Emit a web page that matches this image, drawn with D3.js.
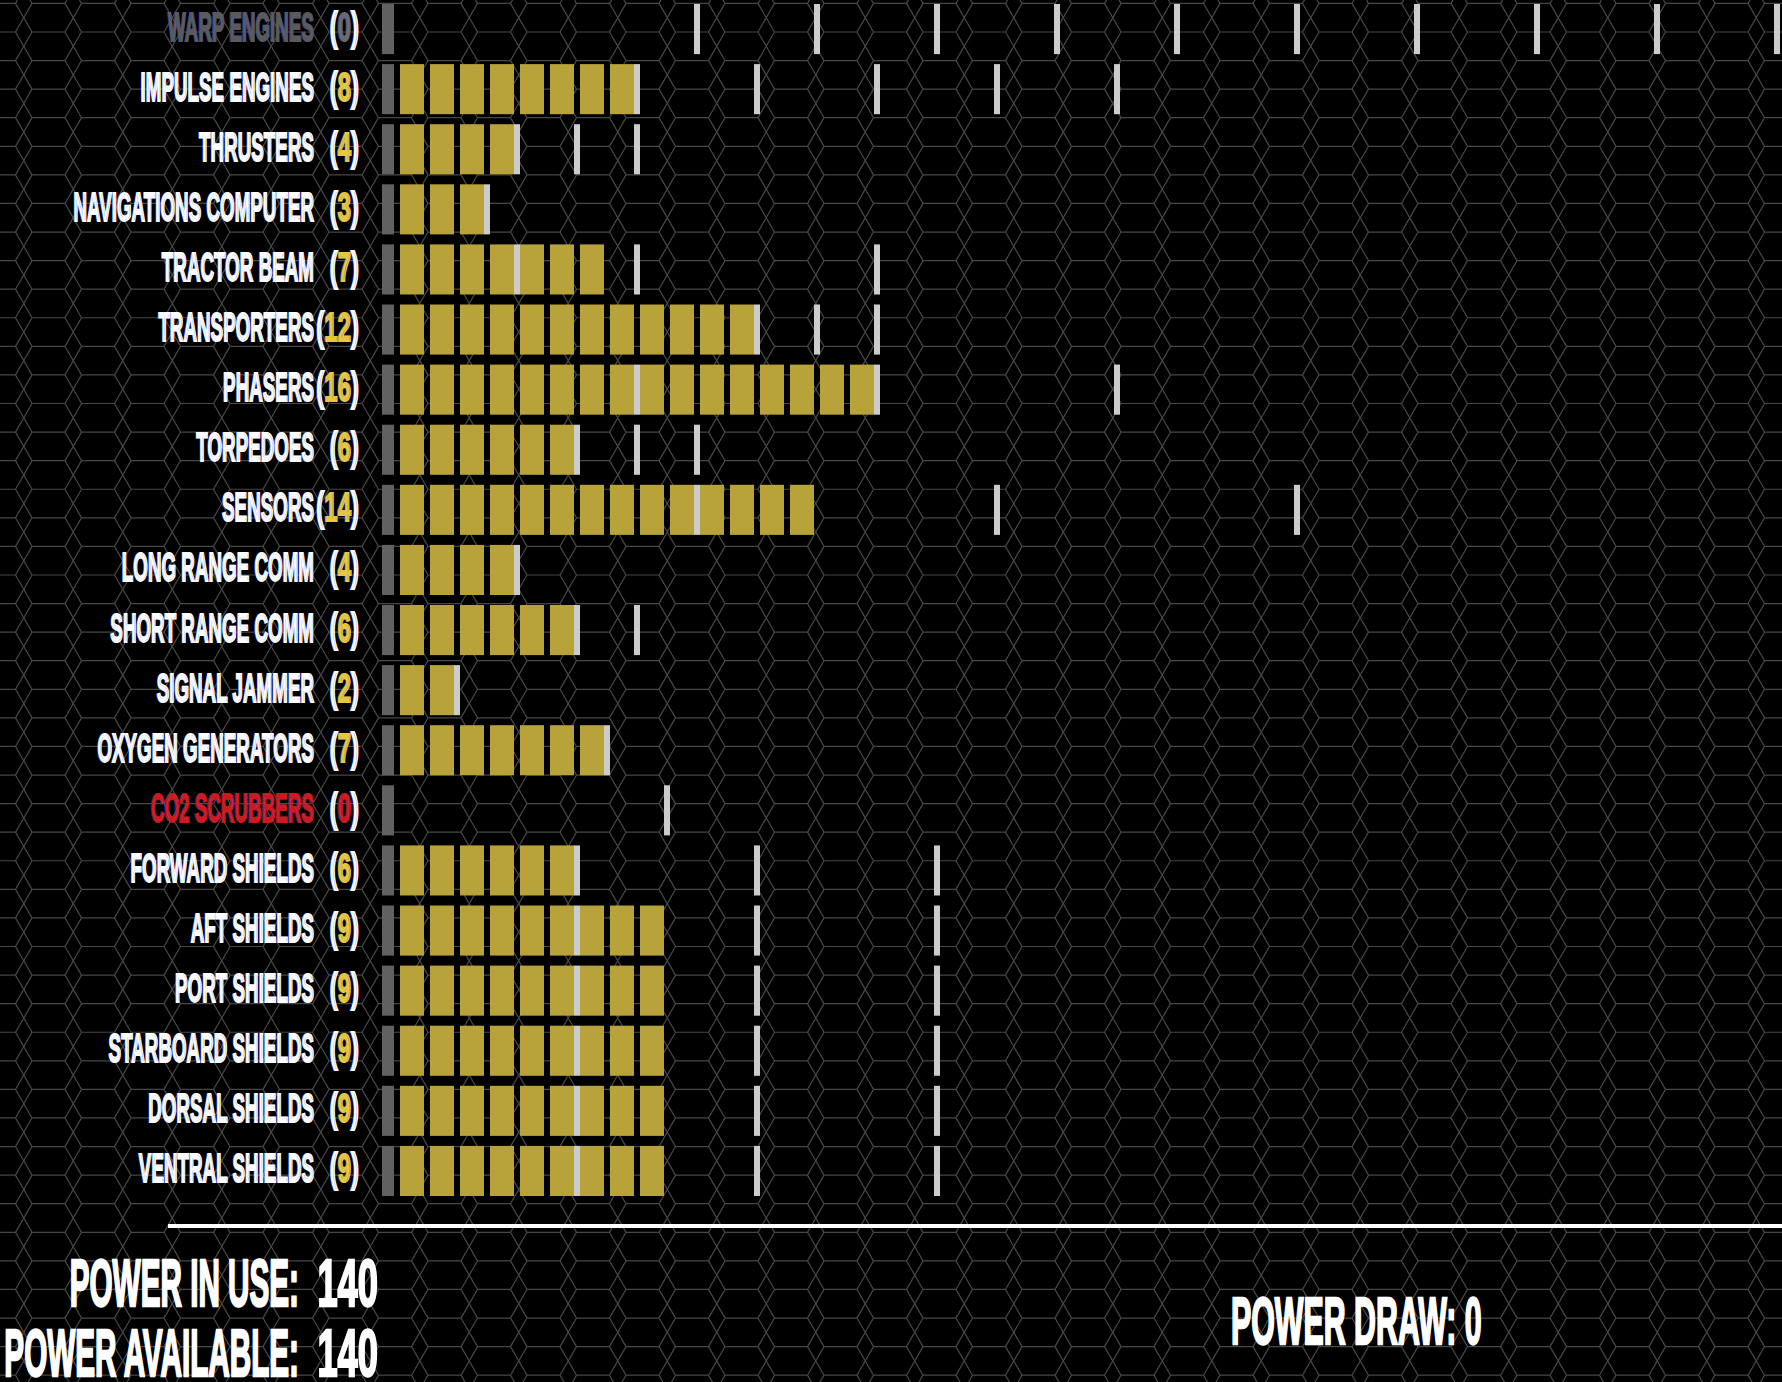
<!DOCTYPE html>
<html>
<head>
<meta charset="utf-8">
<script src="https://cdn.jsdelivr.net/npm/d3@7"></script>
<style>
    html, body { margin: 0; padding: 0; background: #000; overflow: hidden; }
    svg { display: block; }
    text { font-family: "Liberation Sans", Arial, sans-serif; font-weight: bold; }
</style>
</head>
<body>
<svg id="chart"></svg>
<script>
const width = 1782, height = 1382;

// ship systems, top to bottom
const systems = [
    "WARP ENGINES", "IMPULSE ENGINES", "THRUSTERS", "NAVIGATIONS COMPUTER", "TRACTOR BEAM",
    "TRANSPORTERS", "PHASERS", "TORPEDOES", "SENSORS", "LONG RANGE COMM",
    "SHORT RANGE COMM", "SIGNAL JAMMER", "OXYGEN GENERATORS", "CO2 SCRUBBERS", "FORWARD SHIELDS",
    "AFT SHIELDS", "PORT SHIELDS", "STARBOARD SHIELDS", "DORSAL SHIELDS", "VENTRAL SHIELDS"
];
// power units given to each system
const power = [0, 8, 4, 3, 7, 12, 16, 6, 14, 4, 6, 2, 7, 0, 6, 9, 9, 9, 9, 9];
// power levels where each system changes state (white ticks)
const thresholds = [
    [10, 14, 18, 22, 26, 30, 34, 38, 42, 46],
    [8, 12, 16, 20, 24],
    [4, 6, 8],
    [3],
    [4, 8, 16],
    [12, 14, 16],
    [8, 16, 24],
    [6, 8, 10],
    [10, 20, 30],
    [4],
    [6, 8],
    [2],
    [7],
    [9],
    [6, 12, 18],
    [6, 12, 18],
    [6, 12, 18],
    [6, 12, 18],
    [6, 12, 18],
    [6, 12, 18]
];
// label state of each system
const status = [
    "offline", "ok", "ok", "ok", "ok", "ok", "ok", "ok", "ok", "ok",
    "ok", "ok", "ok", "critical", "ok", "ok", "ok", "ok", "ok", "ok"
];
const powerAvailable = 140;
const powerDraw = 0;

const labelColor = { ok: "#ffffff", offline: "#5a5a5a", critical: "#d01818" };
const digitColor = { ok: "#e8c83a", offline: "#6a6a6a", critical: "#d01818" };
const fringe = "-1px 0 rgba(70,100,255,0.4)";

const svg = d3.select("#chart")
    .attr("width", width)
    .attr("height", height);

svg.append("rect")
    .attr("width", width)
    .attr("height", height)
    .attr("fill", "#000");

// hex grid background (two grids, half a cell apart)
const s = 33, hh = s * Math.sqrt(3);
function hexGrid(ox, oy) {
    const p = d3.path();
    for (let i = -1; ox + i * 1.5 * s < width + s; i++) {
        const cx = ox + i * 1.5 * s;
        const shift = (i & 1) ? hh / 2 : 0;
        for (let j = -2; oy + j * hh < height + hh; j++) {
            const cy = oy + shift + j * hh + hh / 2;
            p.moveTo(cx + s, cy);
            p.lineTo(cx + s / 2, cy + hh / 2);
            p.lineTo(cx - s / 2, cy + hh / 2);
            p.lineTo(cx - s, cy);
            p.lineTo(cx - s / 2, cy - hh / 2);
            p.lineTo(cx + s / 2, cy - hh / 2);
            p.closePath();
        }
    }
    return p.toString();
}
svg.append("g")
    .selectAll("path")
    .data([[-1, 3.4], [-1, 3.4 + hh / 2]])
    .join("path")
    .attr("d", d => hexGrid(d[0], d[1]))
    .attr("fill", "none")
    .attr("stroke", "#474747")
    .attr("stroke-width", 1.2);

// scales
const x = d3.scaleLinear()
    .domain([0, 46])
    .range([400, 400 + 46 * 30]);
const cellW = x(1) - x(0) - 6;

const y = d3.scaleBand()
    .domain(systems)
    .range([-1, 1201])
    .paddingInner(1 / 6)
    .paddingOuter(1 / 12);

const rowData = systems.map((name, i) => ({
    name, level: power[i], ticks: thresholds[i], state: status[i]
}));

const rows = svg.append("g")
    .selectAll("g")
    .data(rowData)
    .join("g")
    .attr("transform", d => `translate(0, ${y(d.name)})`);

// grey stub at the start of each row
rows.append("rect")
    .attr("x", x(0) - 18)
    .attr("width", 12)
    .attr("height", y.bandwidth())
    .attr("fill", "#616161");

// power cells
rows.selectAll("rect.cell")
    .data(d => d3.range(d.level))
    .join("rect")
    .attr("class", "cell")
    .attr("x", i => x(i))
    .attr("width", cellW)
    .attr("height", y.bandwidth())
    .attr("fill", "#b8a23a");

// threshold ticks
rows.selectAll("rect.tick")
    .data(d => d.ticks)
    .join("rect")
    .attr("class", "tick")
    .attr("x", n => x(n) - 6)
    .attr("width", 6)
    .attr("height", y.bandwidth())
    .attr("fill", "#cccccc");

// system labels
rows.append("text")
    .attr("transform", "translate(314, 36.5) scale(0.47, 1)")
    .attr("text-anchor", "end")
    .attr("font-size", 40)
    .attr("fill", d => labelColor[d.state])
    .attr("stroke", d => labelColor[d.state])
    .attr("stroke-width", 1.8)
    .style("text-shadow", fringe)
    .text(d => d.name);

// power values
const val = rows.append("text")
    .attr("transform", "translate(359, 36.5) scale(0.6, 1)")
    .attr("text-anchor", "end")
    .attr("font-size", 40)
    .attr("stroke-width", 1.8)
    .style("text-shadow", fringe);
val.append("tspan").attr("fill", "#fff").attr("stroke", "#fff").text("(");
val.append("tspan")
    .attr("fill", d => digitColor[d.state])
    .attr("stroke", d => digitColor[d.state])
    .text(d => d.level);
val.append("tspan").attr("fill", "#fff").attr("stroke", "#fff").text(")");

// divider
svg.append("line")
    .attr("x1", 168)
    .attr("x2", width)
    .attr("y1", 1226)
    .attr("y2", 1226)
    .attr("stroke", "#fff")
    .attr("stroke-width", 4);

// totals
const totals = [
    { label: "POWER IN USE:", value: d3.sum(power), base: 1306 },
    { label: "POWER AVAILABLE:", value: powerAvailable, base: 1376 }
];
const tg = svg.append("g")
    .selectAll("g")
    .data(totals)
    .join("g")
    .attr("transform", d => `translate(0, ${d.base})`);
tg.append("text")
    .attr("transform", "translate(299, 0) scale(0.45, 1)")
    .attr("text-anchor", "end")
    .attr("font-size", 66)
    .attr("fill", "#fff")
    .attr("stroke", "#fff")
    .attr("stroke-width", 2.5)
    .text(d => d.label);
tg.append("text")
    .attr("transform", "translate(378, 0) scale(0.55, 1)")
    .attr("text-anchor", "end")
    .attr("font-size", 66)
    .attr("fill", "#fff")
    .attr("stroke", "#fff")
    .attr("stroke-width", 2.5)
    .text(d => d.value);

svg.append("text")
    .attr("transform", "translate(1231, 1344) scale(0.46, 1)")
    .attr("font-size", 66)
    .attr("fill", "#fff")
    .attr("stroke", "#fff")
    .attr("stroke-width", 2.5)
    .text(`POWER DRAW: ${powerDraw}`);
</script>
</body>
</html>
